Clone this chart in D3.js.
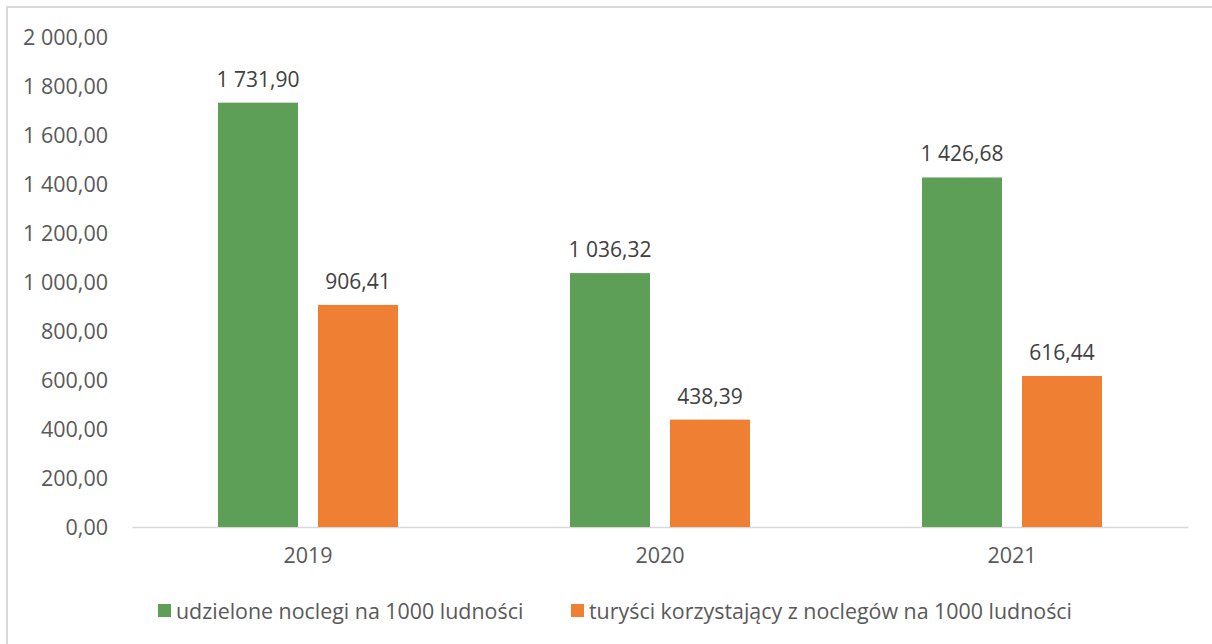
<!DOCTYPE html>
<html lang="pl">
<head>
<meta charset="utf-8">
<title>Noclegi na 1000 ludności</title>
<style>
  body { margin: 0; background: #fff; }
  text { font-family: "Open Sans", "Noto Sans", sans-serif; }
  .tick text { fill: #595959; font-size: 21.5px; }
  .value { fill: #404040; font-size: 21px; }
  .legend text { fill: #595959; font-size: 21.4px; }
</style>
</head>
<body>
<script src="https://d3js.org/d3.v7.min.js"></script>
<script>
  const years = ["2019", "2020", "2021"];
  const seriesNames = ["udzielone noclegi na 1000 ludności", "turyści korzystający z noclegów na 1000 ludności"];
  const noclegi = [1731.90, 1036.32, 1426.68];
  const turysci = [906.41, 438.39, 616.44];
  const yTicks = [0, 200, 400, 600, 800, 1000, 1200, 1400, 1600, 1800, 2000];
  const colors = ["#5d9f57", "#ee7f33"];

  const W = 1212, H = 644;
  const margin = {top: 37, right: 24, bottom: 117, left: 132};
  const width = W - margin.left - margin.right,
    height = H - margin.top - margin.bottom;

  // polish number format: space thousands, comma decimals
  const pl = d3.formatLocale({decimal: ",", thousands: "\u00a0", grouping: [3], currency: ["", " zł"]});
  const fmt = pl.format(",.2f");

  const svg = d3.select("body").append("svg")
    .attr("width", W)
    .attr("height", H);

  // chart frame
  svg.append("rect")
    .attr("x", 7).attr("y", 7)
    .attr("width", W + 20).attr("height", H + 20)
    .attr("fill", "none")
    .attr("stroke", "#d9d9d9")
    .attr("stroke-width", 2);

  const g = svg.append("g")
    .attr("transform", "translate(" + margin.left + "," + margin.top + ")");

  const x0 = d3.scaleBand().domain(years).range([0, width]).padding(0);
  const x1 = d3.scaleBand().domain([0, 1]).range([x0.bandwidth() / 2 - 90, x0.bandwidth() / 2 + 90]).paddingInner(0.2).paddingOuter(0);
  const y = d3.scaleLinear().domain([0, 2000]).range([height, 0]);

  // y axis (labels only)
  const yAxis = g.append("g")
    .call(d3.axisLeft(y).tickValues(yTicks).tickFormat(fmt).tickSize(0).tickPadding(24));
  yAxis.select(".domain").remove();
  yAxis.selectAll("text").attr("dy", "0.36em");

  // x axis
  const xAxis = g.append("g")
    .attr("transform", "translate(0," + height + ")")
    .call(d3.axisBottom(x0).tickSize(0).tickPadding(21));
  xAxis.select(".domain").attr("stroke", "#d9d9d9").attr("stroke-width", 1.5);

  const data = years.map(function(yr, i) { return {year: yr, values: [noclegi[i], turysci[i]]}; });

  const groups = g.selectAll("g.grp")
    .data(data)
    .enter().append("g")
    .attr("class", "grp")
    .attr("transform", function(d) { return "translate(" + x0(d.year) + ",0)"; });

  groups.selectAll("rect")
    .data(function(d) { return d.values.map(function(v, k) { return {k: k, v: v}; }); })
    .enter().append("rect")
    .attr("x", function(d) { return x1(d.k); })
    .attr("width", x1.bandwidth())
    .attr("y", function(d) { return y(d.v); })
    .attr("height", function(d) { return height - y(d.v); })
    .attr("fill", function(d) { return colors[d.k]; });

  groups.selectAll("text.value")
    .data(function(d) { return d.values.map(function(v, k) { return {k: k, v: v}; }); })
    .enter().append("text")
    .attr("class", "value")
    .attr("x", function(d) { return x1(d.k) + x1.bandwidth() / 2; })
    .attr("y", function(d) { return y(d.v) - 16; })
    .attr("text-anchor", "middle")
    .text(function(d) { return fmt(d.v); });

  // legend
  const legend = svg.append("g").attr("class", "legend");
  const legendX = [158, 571];
  seriesNames.forEach(function(name, k) {
    const item = legend.append("g").attr("transform", "translate(" + legendX[k] + ",604)");
    item.append("rect").attr("width", 13).attr("height", 13).attr("fill", colors[k]);
    item.append("text").attr("x", 18).attr("y", 7).attr("dy", "0.36em").text(name);
  });
</script>
</body>
</html>
